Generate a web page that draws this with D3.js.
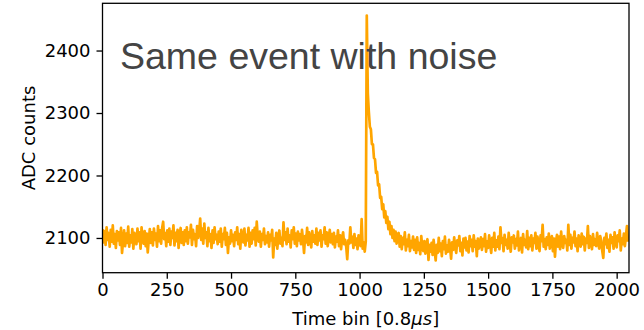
<!DOCTYPE html>
<html><head><meta charset="utf-8">
<script src="https://cdn.jsdelivr.net/npm/d3@7/dist/d3.min.js"></script>
<style>body{margin:0;background:#fff}svg{display:block}</style>
</head><body>
<svg id="chart" width="644" height="330"></svg>
<script>
// ADC samples, one every 4 time bins (bin = index * binStep)
const binStep = 4;
const adc = [
2114,2093,2111,2089,2117,2097,2108,2086,2113,2094,2120,2091,2106,2084,2111,2096,
2109,2089,2116,2076,2095,2112,2087,2107,2092,2118,2086,2104,2093,2114,2083,2108,
2103,2090,2115,2095,2109,2083,2117,2098,2091,2111,2087,2107,2077,2097,2114,2092,
2109,2088,2115,2097,2107,2086,2119,2095,2112,2091,2116,2126,2098,2108,2087,2112,
2094,2115,2089,2110,2100,2120,2088,2108,2095,2113,2084,2105,2116,2092,2109,2089,
2112,2095,2117,2091,2109,2101,2121,2089,2113,2098,2106,2087,2119,2100,2110,2131,
2097,2115,2091,2123,2100,2109,2087,2116,2095,2106,2084,2112,2092,2117,2098,2105,
2090,2110,2094,2115,2086,2106,2098,2116,2089,2108,2076,2101,2091,2112,2095,2105,
2087,2109,2097,2117,2090,2106,2083,2113,2100,2093,2115,2088,2105,2096,2116,2086,
2108,2091,2112,2098,2116,2088,2126,2101,2094,2110,2086,2106,2097,2115,2090,2103,
2093,2109,2086,2105,2096,2113,2069,2099,2089,2108,2083,2102,2112,2091,2100,2087,
2125,2097,2109,2090,2115,2094,2104,2085,2112,2098,2117,2091,2107,2087,2110,2096,
2106,2090,2113,2097,2076,2103,2093,2116,2089,2109,2098,2085,2111,2094,2104,2091,
2115,2089,2108,2096,2112,2086,2104,2098,2117,2091,2109,2087,2101,2113,2093,2106,
2090,2108,2085,2102,2094,2112,2087,2104,2082,2100,2109,2090,2097,2086,2066,2096,
2091,2117,2093,2102,2084,2106,2089,2099,2082,2104,2092,2087,2130,2083,2093,2078,
2094,2456,2332,2302,2278,2274,2250,2250,2228,2226,2204,2206,2184,2186,2164,2166,
2146,2154,2133,2143,2124,2134,2114,2126,2106,2119,2100,2113,2095,2110,2091,2106,
2108,2086,2103,2082,2100,2090,2109,2080,2097,2087,2105,2079,2095,2085,2102,2081,
2097,2076,2101,2081,2092,2074,2103,2084,2079,2095,2075,2090,2098,2065,2089,2078,
2092,2073,2097,2080,2064,2089,2076,2100,2079,2091,2071,2095,2082,2102,2075,2088,
2078,2097,2084,2067,2093,2081,2101,2085,2076,2096,2088,2103,2079,2092,2072,2099,
2085,2100,2080,2094,2077,2103,2087,2097,2079,2104,2086,2095,2071,2099,2083,2093,
2101,2081,2098,2087,2106,2078,2094,2084,2104,2090,2076,2100,2086,2108,2080,2096,
2086,2102,2082,2117,2092,2100,2079,2105,2089,2097,2083,2108,2091,2078,2101,2093,
2104,2083,2098,2088,2110,2080,2095,2100,2077,2106,2089,2097,2085,2111,2082,2100,
2087,2104,2080,2099,2092,2108,2083,2102,2090,2079,2104,2095,2121,2086,2098,2082,
2101,2089,2107,2083,2096,2103,2079,2099,2070,2095,2105,2086,2102,2082,2110,2090,
2084,2103,2092,2097,2080,2121,2089,2105,2083,2100,2093,2110,2087,2099,2079,2104,
2096,2086,2107,2090,2102,2080,2099,2092,2119,2084,2103,2095,2082,2106,2089,2098,
2087,2108,2093,2083,2103,2096,2079,2068,2100,2090,2107,2084,2097,2078,2105,2092,
2101,2083,2109,2093,2085,2104,2095,2112,2080,2099,2090,2107,2087,2103,2119,2094
];
const xTicks = [0, 250, 500, 750, 1000, 1250, 1500, 1750, 2000];
const yTicks = [2100, 2200, 2300, 2400];
const xDomain = [0, 2048];
const titleText = "Same event with noise";
const yLabel = "ADC counts";

const svg = d3.select("#chart");
const L = 102.5, R = 629, T = 3.3, B = 272.7;

const x = d3.scaleLinear().domain(xDomain).range([L, R]);
const lo = d3.min(adc), hi = d3.max(adc), pad = 0.05 * (hi - lo);
const y = d3.scaleLinear().domain([lo - pad, hi + pad]).range([B, T]);

svg.append("defs").append("clipPath").attr("id", "clip")
  .append("rect").attr("x", L).attr("y", T).attr("width", R - L).attr("height", B - T);

const line = d3.line().x((d, i) => x(i * binStep)).y(d => y(d));
svg.append("path").datum(adc)
  .attr("clip-path", "url(#clip)")
  .attr("d", line)
  .attr("fill", "none")
  .attr("stroke", "#ffa500")
  .attr("stroke-width", 2.7)
  .attr("stroke-linejoin", "round");

const font = "'DejaVu Sans', sans-serif";
const xAxis = svg.append("g").attr("transform", `translate(0,${B})`)
  .call(d3.axisBottom(x).tickValues(xTicks).tickFormat(d3.format("d")).tickSize(6).tickPadding(5));
const yAxis = svg.append("g").attr("transform", `translate(${L},0)`)
  .call(d3.axisLeft(y).tickValues(yTicks).tickFormat(d3.format("d")).tickSize(6).tickPadding(6));
[xAxis, yAxis].forEach(g => {
  g.select(".domain").remove();
  g.selectAll(".tick line").attr("stroke", "#000").attr("stroke-width", 1.3);
  g.selectAll(".tick text").attr("fill", "#000").style("font-family", font).style("font-size", "18px");
});

svg.append("rect").attr("x", L).attr("y", T).attr("width", R - L).attr("height", B - T)
  .attr("fill", "none").attr("stroke", "#000").attr("stroke-width", 1.3);

svg.append("text").attr("x", 120).attr("y", 69)
  .style("font-family", "'Liberation Sans', Arial, sans-serif").style("font-size", "37.5px")
  .attr("fill", "#444").text(titleText);

const xl = svg.append("text").attr("x", (L + R) / 2).attr("y", 325).attr("text-anchor", "middle")
  .style("font-family", font).style("font-size", "18px").attr("fill", "#000");
xl.append("tspan").text("Time bin [0.8");
xl.append("tspan").style("font-style", "italic").text("μs");
xl.append("tspan").text("]");

svg.append("text").attr("transform", `translate(35,${(T + B) / 2}) rotate(-90)`)
  .attr("text-anchor", "middle")
  .style("font-family", font).style("font-size", "18px").attr("fill", "#000").text(yLabel);
</script>
</body></html>
